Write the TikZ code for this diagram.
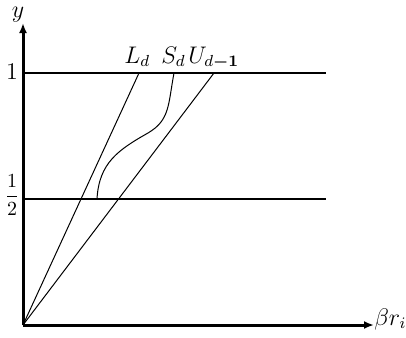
\documentclass[tikz,border=0pt]{standalone}
\usepackage{amsmath,bm}
\usetikzlibrary{arrows.meta}
\begin{document}
\begin{tikzpicture}[x=0.5pt,y=-0.5pt,
  axis/.style={line width=1.5pt,-{Latex[length=5pt,width=4pt]}},
  level/.style={line width=1.2pt},
  thin/.style={line width=0.5pt},
  lbl/.style={inner sep=0pt,font=\fontsize{11.5}{13}\selectfont}]
\useasboundingbox (0,0) rectangle (406,337);
\coordinate (O) at (23,325);
\coordinate (ytip) at (23,23);
\coordinate (xtip) at (374,325);
\coordinate (oneL) at (23,73);
\coordinate (oneR) at (326,73);
\coordinate (halfL) at (23,199);
\coordinate (halfR) at (326,199);
\coordinate (Ltop) at (139,73);
\coordinate (Utop) at (214,73);
\coordinate (Sbot) at (97,199);
\coordinate (Stop) at (174,73);
\draw[axis] (O) -- (ytip);
\draw[axis] (O) -- (xtip);
\draw[level] (oneL) -- (oneR);
\draw[level] (halfL) -- (halfR);
\draw[thin] (O) -- (Ltop);
\draw[thin] (O) -- (Utop);
\draw[thin] (Sbot) .. controls (99,163) and (118,150) .. (148,133)
  .. controls (170,120) and (168,105) .. (Stop);
\node[lbl] (ylab) at (18,15) {$y$};
\node[lbl] (onelab) at (12,72) {$1$};
\node[lbl,font=\fontsize{10}{12}\selectfont] (halflab) at (12,195) {$\dfrac{1}{2}$};
\node[lbl,anchor=base west] (Llab) at (124,63) {$L_d$};
\node[lbl,anchor=base west] (Slab) at (161,63) {$S_d$};
\node[lbl,anchor=base west] (Ulab) at (188,63) {$U_{d\bm{-}\mathbf{1}}$};
\node[lbl,anchor=base west] (xlab) at (374,325) {$\beta r_i$};
\end{tikzpicture}
\end{document}
